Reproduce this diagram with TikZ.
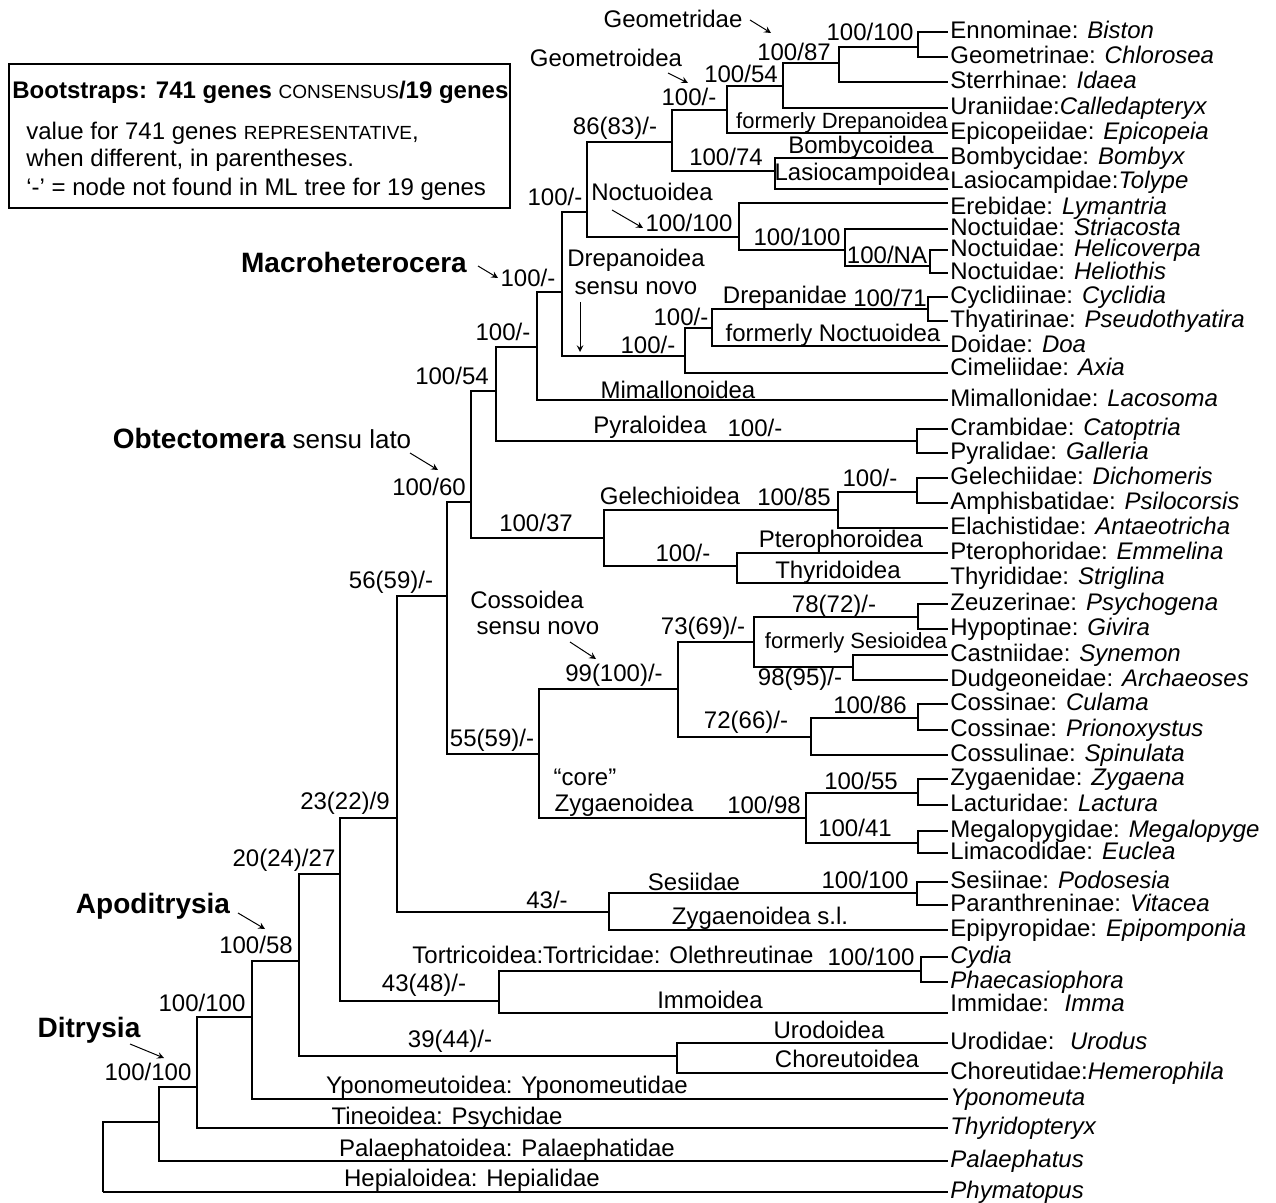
\documentclass[tikz,border=0pt]{standalone}
\usepackage{fontspec}
\setmainfont{Liberation Sans}
\usepackage{tikz}
\usetikzlibrary{arrows}
\newcommand{\smc}[1]{{\fontsize{9.5}{10}\selectfont\mdseries #1}}

\begin{document}
\begin{tikzpicture}[>=stealth, x=0.5pt, y=-0.5pt,
	font=\fontsize{12}{14}\selectfont,
	tree/.style={line width=1pt},
	leaf/.style={anchor=west, inner sep=1pt, text height=8.8pt, text depth=2.4pt},
	bs/.style={inner sep=0pt},
	grp/.style={inner sep=0pt},
	small/.style={inner sep=0pt, font=\fontsize{11}{13}\selectfont},
	clade/.style={inner sep=0pt, font=\fontsize{14}{16}\selectfont\bfseries},
	pointer/.style={->, line width=0.5pt}]
\useasboundingbox (0,0) rectangle (1276,1203);

% legend
\draw[line width=0.7pt] (9,64) rectangle (510,208);
\node[anchor=west, inner sep=0pt] (leg0) at (12,92) {\textbf{Bootstraps: 741 genes \smc{CONSENSUS}/19 genes}};
\node[anchor=west, inner sep=0pt] (leg1) at (26,133) {value for 741 genes \smc{REPRESENTATIVE},};
\node[anchor=west, inner sep=0pt] (leg2) at (26,160) {when different, in parentheses.};
\node[anchor=west, inner sep=0pt] (leg3) at (26,189) {‘-’ = node not found in ML tree for 19 genes};

% internal nodes
\coordinate (r0) at (103,1192);
\coordinate (n159) at (159,1122);
\coordinate (n197) at (197,1087);
\coordinate (n252) at (252,1017);
\coordinate (n299) at (299,961);
\coordinate (n340) at (340,874);
\coordinate (n397) at (397,818);
\coordinate (n447) at (447,596);
\coordinate (n471) at (471,502);
\coordinate (n496) at (496,391);
\coordinate (n537) at (537,347);
\coordinate (n562) at (562,292);
\coordinate (n587) at (587,212);
\coordinate (n672) at (672,142);
\coordinate (n727) at (727,110);
\coordinate (n783) at (783,86);
\coordinate (n839) at (839,63);
\coordinate (n918g) at (918,47);
\coordinate (n775) at (775,171);
\coordinate (n739) at (739,237);
\coordinate (n845) at (845,250);
\coordinate (n930) at (930,266);
\coordinate (n685) at (685,356);
\coordinate (n712) at (712,328);
\coordinate (n928) at (928,309);
\coordinate (n917p) at (917,441);
\coordinate (n604) at (604,538);
\coordinate (n838) at (838,510);
\coordinate (n917g) at (917,492);
\coordinate (n737) at (737,566);
\coordinate (n539) at (539,754);
\coordinate (n678) at (678,689);
\coordinate (n754) at (754,642);
\coordinate (n918z) at (918,617);
\coordinate (n853) at (853,667);
\coordinate (n811) at (811,737);
\coordinate (n918c) at (918,718);
\coordinate (n806) at (806,818);
\coordinate (n918y) at (918,793);
\coordinate (n918m) at (918,843);
\coordinate (n609) at (609,912);
\coordinate (n917s) at (917,893);
\coordinate (n499) at (499,1001);
\coordinate (n921) at (921,971);
\coordinate (n677) at (677,1056);

% leaves
\node[leaf] (Lennom) at (948,32) {Ennominae: \textit{Biston}};
\node[leaf] (Lgeomet) at (948,57) {Geometrinae: \textit{Chlorosea}};
\node[leaf] (Lsterr) at (948,82) {Sterrhinae: \textit{Idaea}};
\node[leaf] (Lurani) at (948,108) {Uraniidae:\textit{Calledapteryx}};
\node[leaf] (Lepico) at (948,133) {Epicopeiidae: \textit{Epicopeia}};
\node[leaf] (Lbomby) at (948,158) {Bombycidae: \textit{Bombyx}};
\node[leaf, text depth=9.4pt] (Llasio) at (948,189) {Lasiocampidae:\textit{Tolype}};
\node[leaf, text height=13.8pt] (Lerebi) at (948,203) {Erebidae: \textit{Lymantria}};
\node[leaf] (Lstria) at (948,229) {Noctuidae: \textit{Striacosta}};
\node[leaf] (Lhelic) at (948,250) {Noctuidae: \textit{Helicoverpa}};
\node[leaf] (Lhelio) at (948,273) {Noctuidae: \textit{Heliothis}};
\node[leaf] (Lcycli) at (948,297) {Cyclidiinae: \textit{Cyclidia}};
\node[leaf] (Lthyat) at (948,321) {Thyatirinae: \textit{Pseudothyatira}};
\node[leaf] (Ldoida) at (948,346) {Doidae: \textit{Doa}};
\node[leaf, text depth=6.4pt] (Lcimel) at (948,373) {Cimeliidae: \textit{Axia}};
\node[leaf] (Lmimal) at (948,400) {Mimallonidae: \textit{Lacosoma}};
\node[leaf] (Lcramb) at (948,429) {Crambidae: \textit{Catoptria}};
\node[leaf] (Lpyral) at (948,453) {Pyralidae: \textit{Galleria}};
\node[leaf] (Lgelec) at (948,478) {Gelechiidae: \textit{Dichomeris}};
\node[leaf] (Lamphi) at (948,503) {Amphisbatidae: \textit{Psilocorsis}};
\node[leaf] (Lelach) at (948,528) {Elachistidae: \textit{Antaeotricha}};
\node[leaf] (Lptero) at (948,553) {Pterophoridae: \textit{Emmelina}};
\node[leaf, text depth=7.4pt] (Lthyri) at (948,583) {Thyrididae: \textit{Striglina}};
\node[leaf] (Lzeuze) at (948,604) {Zeuzerinae: \textit{Psychogena}};
\node[leaf] (Lhypop) at (948,629) {Hypoptinae: \textit{Givira}};
\node[leaf] (Lcastn) at (948,655) {Castniidae: \textit{Synemon}};
\node[leaf] (Ldudge) at (948,680) {Dudgeoneidae: \textit{Archaeoses}};
\node[leaf] (Lculam) at (948,704) {Cossinae: \textit{Culama}};
\node[leaf] (Lprion) at (948,730) {Cossinae: \textit{Prionoxystus}};
\node[leaf] (Lcossu) at (948,755) {Cossulinae: \textit{Spinulata}};
\node[leaf] (Lzygae) at (948,779) {Zygaenidae: \textit{Zygaena}};
\node[leaf] (Llactu) at (948,805) {Lacturidae: \textit{Lactura}};
\node[leaf] (Lmegal) at (948,831) {Megalopygidae: \textit{Megalopyge}};
\node[leaf] (Llimac) at (948,853) {Limacodidae: \textit{Euclea}};
\node[leaf] (Lsesii) at (948,882) {Sesiinae: \textit{Podosesia}};
\node[leaf] (Lparan) at (948,905) {Paranthreninae: \textit{Vitacea}};
\node[leaf] (Lepipy) at (948,930) {Epipyropidae: \textit{Epipomponia}};
\node[leaf] (Lcydia) at (948,957) {\textit{Cydia}};
\node[leaf] (Lphaec) at (948,982) {\textit{Phaecasiophora}};
\node[leaf, text depth=10.4pt] (Limmid) at (948,1013) {Immidae:~ \textit{Imma}};
\node[leaf] (Lurodi) at (948,1043) {Urodidae:~ \textit{Urodus}};
\node[leaf] (Lchore) at (948,1073) {Choreutidae:\textit{Hemerophila}};
\node[leaf] (Lypon) at (948,1099) {\textit{Yponomeuta}};
\node[leaf] (Lthyr) at (948,1128) {\textit{Thyridopteryx}};
\node[leaf] (Lpalae) at (948,1161) {\textit{Palaephatus}};
\node[leaf] (Lphym) at (948,1192) {\textit{Phymatopus}};

% branches
\foreach \p/\c in {r0/n159, r0/Lphym, n159/n197, n159/Lpalae, n197/n252, n197/Lthyr,
	n252/n299, n252/Lypon, n299/n340, n299/n677, n340/n397, n340/n499,
	n397/n447, n397/n609, n447/n471, n447/n539, n471/n496, n471/n604,
	n496/n537, n496/n917p, n537/n562, n537/Lmimal, n562/n587, n562/n685,
	n587/n672, n587/n739, n672/n727, n672/n775, n727/n783, n727/Lepico,
	n783/n839, n783/Lurani, n839/n918g, n839/Lsterr, n918g/Lennom, n918g/Lgeomet,
	n775/Lbomby, n775/Llasio, n739/Lerebi, n739/n845, n845/Lstria, n845/n930,
	n930/Lhelic, n930/Lhelio, n685/n712, n685/Lcimel, n712/n928, n712/Ldoida,
	n928/Lcycli, n928/Lthyat, n917p/Lcramb, n917p/Lpyral, n604/n838, n604/n737,
	n838/n917g, n838/Lelach, n917g/Lgelec, n917g/Lamphi, n737/Lptero, n737/Lthyri,
	n539/n678, n539/n806, n678/n754, n678/n811, n754/n918z, n754/n853,
	n918z/Lzeuze, n918z/Lhypop, n853/Lcastn, n853/Ldudge, n811/n918c, n811/Lcossu,
	n918c/Lculam, n918c/Lprion, n806/n918y, n806/n918m, n918y/Lzygae, n918y/Llactu,
	n918m/Lmegal, n918m/Llimac, n609/n917s, n609/Lepipy, n917s/Lsesii, n917s/Lparan,
	n499/n921, n499/Limmid, n921/Lcydia, n921/Lphaec, n677/Lurodi, n677/Lchore}
	\draw[tree] (\p) |- (\c);

% bootstrap values
\node[bs] (b918g) at (870,32) {100/100};
\node[bs] (b839) at (794,52) {100/87};
\node[bs] (b783) at (741,74) {100/54};
\node[bs] (b727) at (689,97) {100/-};
\node[bs] (b672) at (615,128) {86(83)/-};
\node[bs] (b775) at (726,157) {100/74};
\node[bs] (b587) at (555,197) {100/-};
\node[bs] (b739) at (689,223) {100/100};
\node[bs] (b845) at (797,237) {100/100};
\node[bs] (b930) at (887,255) {100/NA};
\node[bs] (b562) at (528,278) {100/-};
\node[bs] (b928) at (890,298) {100/71};
\node[bs] (b712) at (681,317) {100/-};
\node[bs] (b537) at (503,332) {100/-};
\node[bs] (b685) at (648,345) {100/-};
\node[bs] (b496) at (452,376) {100/54};
\node[bs] (b917p) at (755,428) {100/-};
\node[bs] (b917g) at (870,478) {100/-};
\node[bs] (b471) at (429,487) {100/60};
\node[bs] (b838) at (794,497) {100/85};
\node[bs] (b604) at (536,523) {100/37};
\node[bs] (b737) at (683,553) {100/-};
\node[bs] (b447) at (391,582) {56(59)/-};
\node[bs] (b918z) at (834,606) {78(72)/-};
\node[bs] (b754) at (703,628) {73(69)/-};
\node[bs] (b678) at (614,675) {99(100)/-};
\node[bs] (b853) at (800,679) {98(95)/-};
\node[bs] (b918c) at (870,705) {100/86};
\node[bs] (b811) at (746,722) {72(66)/-};
\node[bs] (b539) at (492,740) {55(59)/-};
\node[bs] (b918y) at (861,781) {100/55};
\node[bs] (b397) at (345,803) {23(22)/9};
\node[bs] (b806) at (764,805) {100/98};
\node[bs] (b918m) at (855,828) {100/41};
\node[bs] (b340) at (284,860) {20(24)/27};
\node[bs] (b917s) at (865,880) {100/100};
\node[bs] (b609) at (547,900) {43/-};
\node[bs] (b299) at (256,945) {100/58};
\node[bs] (b921) at (871,957) {100/100};
\node[bs] (b499) at (424,985) {43(48)/-};
\node[bs] (b252) at (202,1003) {100/100};
\node[bs] (b677) at (450,1041) {39(44)/-};
\node[bs] (b197) at (148,1072) {100/100};

% group names
\node[grp] (gGeometridae) at (673,19) {Geometridae};
\node[grp] (gGeometroidea) at (606,58) {Geometroidea};
\node[small] (gFormDrep) at (842,123) {formerly Drepanoidea};
\node[grp] (gBomby) at (861,147) {Bombycoidea};
\node[grp] (gLasio) at (862,174) {Lasiocampoidea};
\node[grp] (gNoctu) at (652,192) {Noctuoidea};
\node[grp] (gDrepa) at (636,260) {Drepanoidea};
\node[grp] (gDrepaS) at (636,288) {sensu novo};
\node[grp] (gDrepanidae) at (785,297) {Drepanidae};
\node[grp] (gFormNoct) at (833,335) {formerly Noctuoidea};
\node[grp] (gMimal) at (678,390) {Mimallonoidea};
\node[grp] (gPyral) at (650,427) {Pyraloidea};
\node[grp] (gGelec) at (670,496) {Gelechioidea};
\node[grp] (gPtero) at (841,541) {Pterophoroidea};
\node[grp] (gThyri) at (838,572) {Thyridoidea};
\node[grp] (gCosso) at (527,600) {Cossoidea};
\node[grp] (gCossoS) at (538,628) {sensu novo};
\node[small] (gFormSes) at (856,643) {formerly Sesioidea};
\node[grp] (gCore) at (585,777) {“core”};
\node[grp] (gZygae) at (624,805) {Zygaenoidea};
\node[grp] (gSesii) at (694,882) {Sesiidae};
\node[grp] (gZygSL) at (760,918) {Zygaenoidea s.l.};
\node[grp] (gTortr) at (613,955) {Tortricoidea:Tortricidae: Olethreutinae};
\node[grp] (gImmo) at (710,1000) {Immoidea};
\node[grp] (gUrodo) at (829,1030) {Urodoidea};
\node[grp] (gChore) at (847,1059) {Choreutoidea};
\node[grp] (gYpono) at (507,1087) {Yponomeutoidea: Yponomeutidae};
\node[grp] (gTineo) at (447,1118) {Tineoidea: Psychidae};
\node[grp] (gPalae) at (507,1150) {Palaephatoidea: Palaephatidae};
\node[grp] (gHepia) at (472,1180) {Hepialoidea: Hepialidae};

% clades
\node[clade] (cMacro) at (354,262) {Macroheterocera};
\node[clade] (cObtect) at (262,438) {Obtectomera{\mdseries\fontsize{13}{15}\selectfont{} sensu lato}};
\node[clade] (cApod) at (153,906) {Apoditrysia};
\node[clade] (cDitr) at (89,1030) {Ditrysia};

% pointers
\coordinate (aGeomA) at (750,20);   \coordinate (aGeomB) at (771,33);
\coordinate (aGeoiA) at (668,73);   \coordinate (aGeoiB) at (688,83);
\coordinate (aNoctA) at (612,210);  \coordinate (aNoctB) at (643,228);
\coordinate (aDrepA) at (580,302);  \coordinate (aDrepB) at (580,352);
\coordinate (aMacrA) at (478,266);  \coordinate (aMacrB) at (498,278);
\coordinate (aObteA) at (410,453);  \coordinate (aObteB) at (438,470);
\coordinate (aCossA) at (570,642);  \coordinate (aCossB) at (596,659);
\coordinate (aApodA) at (238,913);  \coordinate (aApodB) at (265,929);
\coordinate (aDitrA) at (130,1044); \coordinate (aDitrB) at (164,1058);
\foreach \a in {Geom,Geoi,Noct,Drep,Macr,Obte,Coss,Apod,Ditr}
	\draw[pointer] (a\a A) -- (a\a B);
\end{tikzpicture}
\end{document}
